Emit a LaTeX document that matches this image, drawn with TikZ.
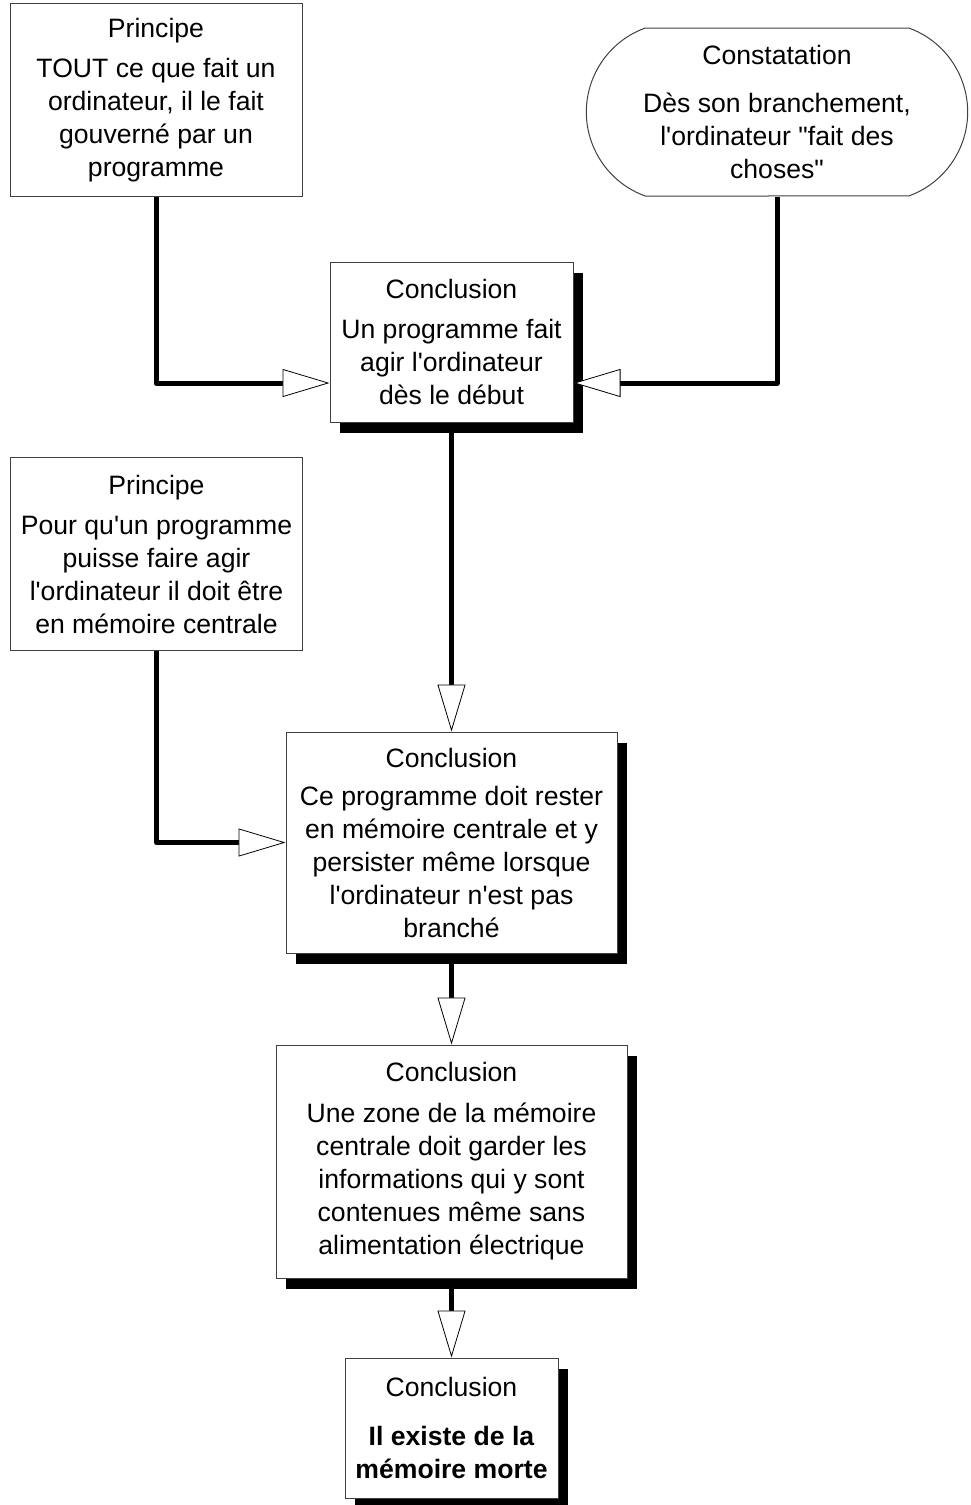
\documentclass[tikz,border=0pt]{standalone}
\usepackage{fontspec}
\setmainfont{Liberation Sans}[Ligatures=TeXOff]
\usetikzlibrary{shapes.misc, arrows.meta, positioning, shadows}

\begin{document}
\begin{tikzpicture}[
        x=1pt, y=-1pt,
        font=\fontsize{26.6}{33}\selectfont,
        card/.style={rectangle, draw=black!75, line width=1pt, fill=white, align=center, inner sep=4pt},
        principe/.style={card, minimum width=292pt, minimum height=193pt},
        concl/.style={card, drop shadow={shadow xshift=10pt, shadow yshift=-11pt, fill=black, opacity=1}},
        constat/.style={rounded rectangle, rounded rectangle arc length=140, draw=black!75, line width=1pt, fill=white, align=center, minimum width=388pt, minimum height=168pt},
        arrow/.style={-{Triangle[length=47pt, width=28pt, fill=white, line width=0.8pt]}, line width=5pt, line join=round}
    ]
    \useasboundingbox (0,0) rectangle (970,1505);

    % Nodes
    \node[principe] (prin1) at (156,100) {Principe\\[7pt] TOUT ce que fait un\\ ordinateur, il le fait\\ gouverné par un\\ programme};
    \node[constat] (const) at (777,112) {Constatation\\[15pt] Dès son branchement,\\ l'ordinateur "fait des\\ choses"};
    \node[principe] (prin2) at (156.5,554) {Principe\\[7pt] Pour qu'un programme\\ puisse faire agir\\ l'ordinateur il doit être\\ en mémoire centrale};
    \node[concl, minimum width=243pt, minimum height=160pt] (concl1) at (451.5,342) {Conclusion\\[7pt] Un programme fait\\ agir l'ordinateur\\ dès le début};
    \node[concl, minimum width=331pt, minimum height=221pt] (concl2) [below=309pt of concl1] {Conclusion\\[5pt] Ce programme doit rester\\ en mémoire centrale et y\\ persister même lorsque\\ l'ordinateur n'est pas\\ branché};
    \node[concl, minimum width=351pt, minimum height=233pt] (concl3) [below=91pt of concl2] {Conclusion\\[8pt] Une zone de la mémoire\\ centrale doit garder les\\ informations qui y sont\\ contenues même sans\\ alimentation électrique};
    \node[concl, minimum width=213pt, minimum height=140pt] (concl4) [below=79pt of concl3] {Conclusion\\[16pt] \textbf{Il existe de la}\\ \textbf{mémoire morte}};

    % Connections
    \draw[arrow] (prin1.south) |- ([yshift=-41pt]concl1.west);
    \draw[arrow] (const.south) |- ([yshift=-41pt]concl1.east);
    \draw[arrow] (concl1) -- (concl2);
    \draw[arrow] (prin2.south) |- (concl2.west);
    \draw[arrow] (concl2) -- (concl3);
    \draw[arrow] (concl3) -- (concl4);

\end{tikzpicture}
\end{document}
